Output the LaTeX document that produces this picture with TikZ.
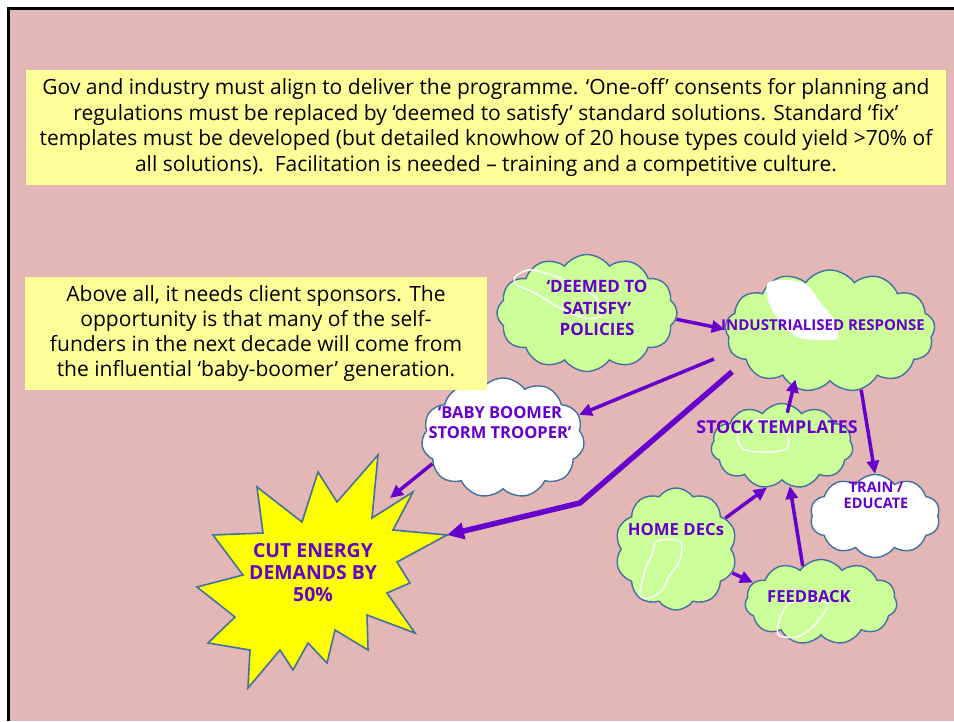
\documentclass[tikz,border=0pt]{standalone}
\usepackage{fontspec}
\setmainfont{Open Sans}
\usetikzlibrary{shapes.symbols,arrows.meta,calc}
\definecolor{bg}{HTML}{E4B7B7}
\definecolor{note}{HTML}{FFFF99}
\definecolor{leaf}{HTML}{CCFF99}
\definecolor{edge}{HTML}{41719C}
\definecolor{ink}{HTML}{6600CC}
\definecolor{sun}{HTML}{FFFF00}
\begin{document}
\begin{tikzpicture}[x=1pt,y=-1pt,
  cloudbox/.style={cloud, cloud puffs=#1, cloud puff arc=110, cloud ignores aspect,
    draw=edge, line width=1.4pt, inner sep=0pt},
  lbl/.style={text=ink, align=center, font=\bfseries\fontsize{15}{20}\selectfont, inner sep=0pt},
  notebox/.style={fill=note, align=center, inner sep=0pt, text=black},
  arr/.style={draw=ink, line width=3.5pt, -{Triangle[length=13pt,width=12pt]}},
  shine/.style={white, line width=1.5pt}]
\useasboundingbox (0,0) rectangle (954,721);
\fill[white] (0,0) rectangle (954,721);
\fill[bg] (10,10) rectangle (954,721);
\draw[black,line width=3pt] (8.5,721) -- (8.5,8) -- (954,8);

% clouds
\node[cloudbox=12, fill=leaf, minimum width=180pt, minimum height=117pt] (deem) at (587,313) {};
\node[cloudbox=13, fill=leaf, minimum width=210pt, minimum height=122pt] (ind) at (830,331) {};
\node[cloudbox=11, fill=leaf, minimum width=142pt, minimum height=85pt] (stock) at (782,446) {};
\node[cloudbox=10, fill=white, minimum width=130pt, minimum height=83pt] (train) at (875,516) {};
\node[cloudbox=10, fill=leaf, minimum width=122pt, minimum height=122pt] (home) at (676,549) {};
\node[cloudbox=11, fill=leaf, minimum width=152pt, minimum height=85pt] (feed) at (821,602) {};
\node[cloudbox=11, fill=white, minimum width=163pt, minimum height=120pt] (baby) at (503,438) {};

% highlights
\draw[shine] plot[smooth cycle] coordinates {(515,277) (528,270) (545,273) (572,283) (595,297) (602,315) (585,318) (558,307) (535,293) (517,285)};
\fill[white] plot[smooth cycle] coordinates {(768,283) (787,280) (807,285) (820,302) (833,318) (838,338) (820,340) (797,337) (780,322) (768,300)};
\draw[shine] plot[smooth cycle] coordinates {(740,428) (760,420) (783,425) (788,447) (770,452) (745,450) (738,440)};
\draw[shine] plot[smooth cycle] coordinates {(657,541) (680,541) (680,560) (670,575) (662,590) (650,598) (640,595) (645,570) (652,555)};
\draw[shine] plot[smooth cycle] coordinates {(790,603) (778,625) (780,636) (800,636) (817,622) (827,603)};

% starburst
\draw[fill=sun, draw=edge, line width=1.6pt, line join=miter]
  (378,455) -- (372,518) -- (413,492) -- (393,530) -- (447,535) -- (397,562) -- (410,583)
  -- (387,593) -- (415,633) -- (367,615) -- (368,650) -- (335,630) -- (327,663) -- (308,643)
  -- (293,670) -- (280,650) -- (248,688) -- (250,650) -- (208,643) -- (235,617) -- (197,587)
  -- (243,575) -- (213,535) -- (263,533) -- (257,487) -- (302,522) -- (318,472) -- (337,502) -- cycle;
\coordinate (tipE) at (447,535);
\coordinate (tipNE) at (390,498);
\coordinate (bend) at (580,503);

% labels
\node[lbl, font=\bfseries\fontsize{17}{21.5}\selectfont] (deemt) at (597,308) {‘DEEMED TO\\SATISFY’\\POLICIES};
\node[lbl, font=\bfseries\fontsize{15}{17}\selectfont] (indt) at (823,325) {INDUSTRIALISED RESPONSE};
\node[lbl, font=\bfseries\fontsize{17.8}{20}\selectfont] (stockt) at (777,427) {STOCK TEMPLATES};
\node[lbl, font=\bfseries\fontsize{14.5}{16}\selectfont] (traint) at (876,495) {TRAIN /\\EDUCATE};
\node[lbl, font=\bfseries\fontsize{16.7}{18}\selectfont] (homet) at (676,530) {HOME DECs};
\node[lbl, font=\bfseries\fontsize{16.6}{18}\selectfont] (feedt) at (809,597) {FEEDBACK};
\node[lbl, font=\bfseries\fontsize{16.5}{19.5}\selectfont] (babyt) at (500,422.5) {‘BABY BOOMER\\STORM TROOPER’};
\node[lbl, font=\bfseries\fontsize{19.4}{22}\selectfont] (cut) at (313,573) {CUT ENERGY\\DEMANDS BY\\50\%};

% arrows
\draw[arr] (deem.-4) -- (ind.179);
\draw[arr, shorten <=18pt] (ind.-168) -- (baby.17);
\draw[arr, line width=5.5pt, -{Triangle[length=17pt,width=16pt]}, shorten <=18pt] (ind.-161) -- (bend) -- (tipE);
\draw[arr] (baby.200) -- (tipNE);
\draw[arr, shorten <=-9pt, shorten >=-8pt] (stock.80) -- (ind.-123);
\draw[arr] (ind.-62) -- (train.90);
\draw[arr] (home.32) -- (stock.-110);
\draw[arr] (feed.117) -- (stock.-79);
\draw[arr] (home.-23) -- (feed.164);

% text boxes
\node[notebox, minimum width=920pt, minimum height=115pt, font=\fontsize{21}{25.5}\selectfont] (topnote) at (486,127.5)
  {Gov and industry must align to deliver the programme. ‘One-off’ consents for planning and\\
   regulations must be replaced by ‘deemed to satisfy’ standard solutions. Standard ‘fix’\\
   templates must be developed (but detailed knowhow of 20 house types could yield >70\% of\\
   all solutions).\ \ Facilitation is needed – training and a competitive culture.};
\node[notebox, minimum width=462pt, minimum height=113pt, font=\fontsize{21}{25}\selectfont] (leftnote) at (256,333.5)
  {Above all, it needs client sponsors. The\\
   opportunity is that many of the self-\\
   funders in the next decade will come from\\
   the influential ‘baby-boomer’ generation.};
\end{tikzpicture}
\end{document}
